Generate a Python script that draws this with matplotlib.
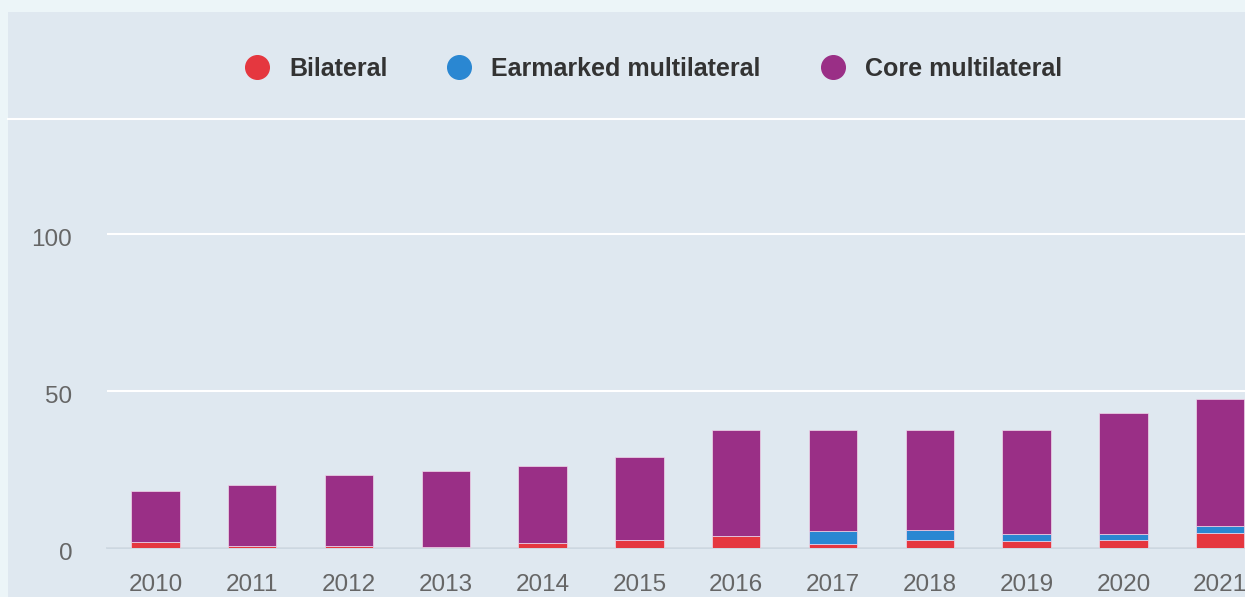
import matplotlib.pyplot as plt
import matplotlib.transforms as mtransforms
from matplotlib.patches import Rectangle
from matplotlib.lines import Line2D

plt.rcParams['font.family'] = ['Liberation Sans', 'DejaVu Sans']

years = ['2010', '2011', '2012', '2013', '2014', '2015',
         '2016', '2017', '2018', '2019', '2020', '2021']
bilateral = [1.8, 0.6, 0.7, 0.4, 1.6, 2.5, 3.9, 1.2, 2.7, 2.3, 2.6, 4.8]
earmarked = [0.0, 0.0, 0.0, 0.0, 0.0, 0.0, 0.0, 4.3, 2.9, 2.2, 1.9, 2.1]
core = [16.4, 19.4, 22.5, 24.1, 24.5, 26.5, 33.7, 32.1, 32.0, 33.1, 38.5, 40.6]
series_names = ['Bilateral', 'Earmarked multilateral', 'Core multilateral']
colors = ['#e5373f', '#2a87d2', '#9a2f86']
yticks = [0, 50, 100]

W, H = 1245, 597
fig = plt.figure(figsize=(W / 100, H / 100), dpi=100)
fig.patch.set_facecolor('#ecf5f8')

# panel behind the chart
fig.patches.append(Rectangle((8 / W, 0), 1, 1 - 12 / H, transform=fig.transFigure,
                             facecolor='#dfe8f0', edgecolor='none', zorder=0))
# white line under the legend
fig.add_artist(Line2D([8 / W, 1], [1 - 119 / H, 1 - 119 / H], transform=fig.transFigure,
                      color='white', lw=1.5, zorder=1))

# plot area runs past the right edge of the figure
left_px, right_px = 107, 107 + 12 * 96.8
top_px, bottom_px = 126, 548
ax = fig.add_axes([left_px / W, 1 - bottom_px / H,
                   (right_px - left_px) / W, (bottom_px - top_px) / H])
ax.set_zorder(2)
ax.set_facecolor('none')

x = range(len(years))
bottom = [0] * len(years)
for vals, c in zip([bilateral, earmarked, core], colors):
    ax.bar(x, vals, width=0.5, bottom=bottom, color=c,
           edgecolor='#f0d8ea', linewidth=0.5, zorder=3)
    bottom = [b + v for b, v in zip(bottom, vals)]

ax.set_xlim(-0.5, len(years) - 0.5)
ax.set_ylim(0, 134.5)
ax.set_yticks(yticks)
ax.set_xticks(list(x))
ax.set_xticklabels(years)
ax.grid(axis='y', color='white', linewidth=1.5, zorder=0)
ax.set_axisbelow(True)
for s in ['top', 'right', 'left']:
    ax.spines[s].set_visible(False)
ax.spines['bottom'].set_color('#c9d4de')
ax.spines['bottom'].set_linewidth(1.2)
ax.tick_params(axis='both', length=0, labelsize=17.5, colors='#666666')
ax.tick_params(axis='x', pad=19)
ax.tick_params(axis='y', pad=25)

# y labels sit a little below their grid lines
shift = mtransforms.ScaledTranslation(0, -3 / 100, fig.dpi_scale_trans)
for lbl in ax.get_yticklabels():
    lbl.set_transform(lbl.get_transform() + shift)

# legend row
legend_x = [257, 459, 833]
legend_y = 1 - 67 / H
for name, c, lx in zip(series_names, colors, legend_x):
    fig.add_artist(Line2D([lx / W], [legend_y], marker='o', markersize=17,
                          color=c, transform=fig.transFigure, linestyle='none', zorder=3))
    fig.text((lx + 32) / W, legend_y, name, fontsize=18, fontweight='bold',
             color='#333333', va='center_baseline', ha='left', zorder=3)

fig.savefig('out.png', dpi=100, facecolor=fig.get_facecolor())
